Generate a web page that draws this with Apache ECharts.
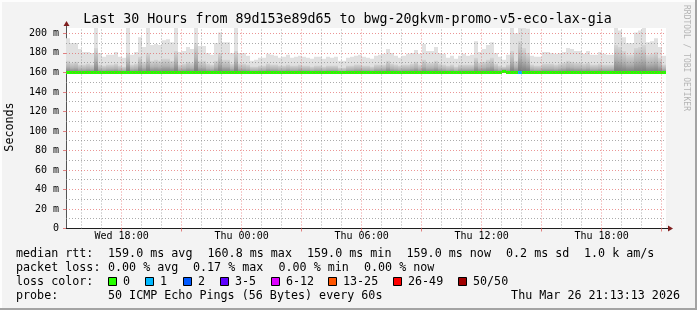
<!DOCTYPE html>
<html><head><meta charset="utf-8">
<script src="https://cdn.jsdelivr.net/npm/echarts@6/dist/echarts.min.js"></script>
<style>html,body{margin:0;padding:0;background:#f3f3f3;overflow:hidden}#c{width:697px;height:310px}</style>
</head><body><div id="c"></div>
<script>
// ---- time frame (hours since Wed 00:00) ----
const START_HOUR = 15 + 13/60 + 13/3600;   // Wed 15:13:13
const END_HOUR = START_HOUR + 30;          // Thu 21:13:13
const COL_FIRST_HOUR = 15.2;               // first 12-minute bucket (Wed 15:12)
const COL_STEP = 0.2;                      // 12 minutes

// ---- smoke: top of the smoke (max ping) per 12-min bucket, ms ----
const smokeMax = [
 195,190,190,184,181,181,180,206,180,176,
 178,178,181,176,175,206,178,181,196,186,
 206,188,189,188,193,194,191,206,181,182,
 186,184,206,187,187,180,178,190,201,191,
 191,180,206,180,180,177,172,173,175,175,
 179,178,177,175,176,178,175,176,177,176,
 175,174,176,176,174,176,175,176,172,172,
 175,176,177,178,176,175,174,177,178,179,
 184,180,177,175,177,179,180,183,179,189,
 182,182,186,180,179,175,177,174,177,179,
 177,178,192,181,184,188,191,180,176,173,
 178,206,200,206,206,205,177,176,176,181,
 181,180,179,180,181,185,184,182,182,179,
 182,178,178,181,179,178,178,206,203,196,
 190,190,201,203,206,191,192,195,186,177
];
// ---- smoke: upper edge of the dense (darker) part per bucket, ms ----
const smokeCore = [
 172,170,171,168,168,169,168,185,168,167,
 168,168,169,167,166,180,168,169,176,171,
 180,172,173,172,174,174,172,182,168,169,
 171,170,190,172,172,169,168,172,180,173,
 173,169,182,169,169,168,166,166,167,167,
 169,168,168,167,167,168,167,167,168,167,
 167,166,167,167,166,167,167,167,165,165,
 167,167,168,168,167,167,166,168,168,168,
 172,169,168,167,168,168,169,171,168,173,
 170,170,172,169,168,167,168,166,168,168,
 168,168,175,170,171,173,175,169,167,166,
 168,182,172,192,185,180,168,167,167,169,
 169,169,168,169,170,172,171,170,170,169,
 170,168,168,169,168,168,168,188,186,182,
 178,178,185,186,188,178,179,181,175,168
];
// ---- median rtt per bucket, ms ----
const medianRtt = [
 159.0,159.0,159.0,159.0,159.0,159.0,159.0,159.0,159.0,159.0,
 159.0,159.0,159.0,159.0,159.0,159.0,159.0,159.0,159.0,159.0,
 159.0,159.0,159.0,159.0,159.0,159.0,159.0,159.0,159.0,159.0,
 159.0,159.0,159.0,159.0,159.0,159.0,159.0,159.0,159.0,159.0,
 159.0,159.0,159.0,159.0,159.0,159.0,159.0,159.0,159.0,159.0,
 159.0,159.0,159.0,159.0,159.0,159.0,159.0,159.0,159.0,159.0,
 159.0,159.0,159.0,159.0,159.0,159.0,159.0,159.0,159.0,159.0,
 159.0,159.0,159.0,159.0,159.0,159.0,159.0,159.0,159.0,159.0,
 159.0,159.0,159.0,159.0,159.0,159.0,159.0,159.0,159.0,159.0,
 159.0,159.0,159.0,159.0,159.0,159.0,159.0,159.0,159.0,159.0,
 159.0,159.0,159.0,159.0,159.0,159.0,159.0,159.0,159.0,160.8,
 159.0,159.0,159.0,159.0,159.0,159.0,159.0,159.0,159.0,159.0,
 159.0,159.0,159.0,159.0,159.0,159.0,159.0,159.0,159.0,159.0,
 159.0,159.0,159.0,159.0,159.0,159.0,159.0,159.0,159.0,159.0,
 159.0,159.0,159.0,159.0,159.0,159.0,159.0,159.0,159.0,159.0
];
// ---- lost pings per bucket ----
const lossCount = [
 0,0,0,0,0,0,0,0,0,0, 0,0,0,0,0,0,0,0,0,0,
 0,0,0,0,0,0,0,0,0,0, 0,0,0,0,0,0,0,0,0,0,
 0,0,0,0,0,0,0,0,0,0, 0,0,0,0,0,0,0,0,0,0,
 0,0,0,0,0,0,0,0,0,0, 0,0,0,0,0,0,0,0,0,0,
 0,0,0,0,0,0,0,0,0,0, 0,0,0,0,0,0,0,0,0,0,
 0,0,0,0,0,0,0,0,0,0, 0,0,0,1,0,0,0,0,0,0,
 0,0,0,0,0,0,0,0,0,0, 0,0,0,0,0,0,0,0,0,0,
 0,0,0,0,0,0,0,0,0,0
];
// ---- loss colour legend ----
const lossLabels = ['0','1','2','3-5','6-12','13-25','26-49','50/50'];
const lossLower  = [0,1,2,3,6,13,26,50];
const lossColors = ['#26ff00','#00b8ff','#0059ff','#5e00ff','#dd00ff','#ff5500','#ff0000','#a10000'];

// ---- axes ----
const Y_MAX = 205.5;
const yLabelValues = [0,20,40,60,80,100,120,140,160,180,200];
const yMinorValues = [10,30,50,70,90,110,130,150,170,190];
const xLabelHours = [18,24,30,36,42];
const xLabelTexts = ['Wed 18:00','Thu 00:00','Thu 06:00','Thu 12:00','Thu 18:00'];
const xMajorHours = [18,21,24,27,30,33,36,39,42,45];
const xMinorHours = [16,17,19,20,22,23,25,26,28,29,31,32,34,35,37,38,40,41,43,44];

// ---- texts ----
const titleText = 'Last 30 Hours from 89d153e89d65 to bwg-20gkvm-promo-v5-eco-lax-gia';
const statRows = [
  [['median rtt:',16],['159.0 ms avg',108],['160.8 ms max',207.5],['159.0 ms min',307],['159.0 ms now',406.5],['0.2 ms sd',506],['1.0 k am/s',584]],
  [['packet loss:',16],['0.00 % avg',108],['0.17 % max',193],['0.00 % min',278.5],['0.00 % now',364]]
];
const lossSwatchX = [108,145,183,220,271,328,393,458];
const probeText = '50 ICMP Echo Pings (56 Bytes) every 60s';
const dateText = 'Thu Mar 26 21:13:13 2026';

const FONT = 'DejaVu Sans Mono';
const MINOR_GRID = 'rgba(143,143,143,0.75)';
const MAJOR_GRID = 'rgba(222,79,79,0.6)';

function lossColor(n){
  let c = lossColors[0];
  for (let i=0;i<lossLower.length;i++) if (n >= lossLower[i]) c = lossColors[i];
  return c;
}

const colData = smokeMax.map((m,k)=>[COL_FIRST_HOUR+k*COL_STEP, COL_FIRST_HOUR+(k+1)*COL_STEP, m, smokeCore[k], medianRtt[k], lossCount[k]]);

function renderSmoke(params, api){
  const xs = Math.max(api.value(0), START_HOUR), xe = Math.min(api.value(1), END_HOUR);
  const base = api.value(4);
  const pa = api.coord([xs, base]), pb = api.coord([xe, Math.min(api.value(2), Y_MAX)]), pc = api.coord([xs, api.value(3)]);
  const x0 = Math.round(pa[0]), x1 = Math.round(pb[0]);
  const yb = pa[1], yt = pb[1], yc = pc[1];
  return {type:'group', children:[
    {type:'rect', shape:{x:x0,y:yt,width:x1-x0,height:yb-yt}, style:{fill:'#e1e1e1'}},
    {type:'rect', shape:{x:x0,y:yc,width:x1-x0,height:yb-yc}, style:{fill:new echarts.graphic.LinearGradient(0,0,0,1,[
      {offset:0,color:'#d6d6d6'},{offset:0.5,color:'#b2b2b2'},{offset:1,color:'#727272'}])}}
  ]};
}
function renderMedian(params, api){
  const xs = Math.max(api.value(0), START_HOUR), xe = Math.min(api.value(1), END_HOUR);
  const p0 = api.coord([xs, api.value(4)]), p1 = api.coord([xe, api.value(4)]);
  const x0 = Math.round(p0[0]), x1 = Math.round(p1[0]);
  return {type:'rect', shape:{x:x0, y:Math.round(p0[1])-2, width:x1-x0, height:3}, style:{fill: lossColor(api.value(5))}};
}

const gridLines = [];
yMinorValues.forEach(v=>gridLines.push({yAxis:v, lineStyle:{color:MINOR_GRID}}));
xMinorHours.forEach(v=>gridLines.push({xAxis:v, lineStyle:{color:MINOR_GRID}}));
yLabelValues.filter(v=>v>0).forEach(v=>gridLines.push({yAxis:v, lineStyle:{color:MAJOR_GRID}}));
xMajorHours.forEach(v=>gridLines.push({xAxis:v, lineStyle:{color:MAJOR_GRID}}));

const chart = echarts.init(document.getElementById('c'), null, {renderer:'canvas'});
chart.setOption({
  animation:false,
  backgroundColor:'#f3f3f3',
  textStyle:{fontFamily:FONT},
  grid:{left:66, right:31, top:28, bottom:81.5, show:true, backgroundColor:'#ffffff', borderWidth:0},
  xAxis:{type:'value', min:START_HOUR, max:END_HOUR,
    axisLine:{show:true, lineStyle:{color:'#1f1f1f', width:1}},
    axisTick:{show:true, customValues:xMajorHours, length:3, lineStyle:{color:'#e08080'}},
    axisLabel:{customValues:xLabelHours, formatter:(v)=>xLabelTexts[xLabelHours.indexOf(Math.round(v))]||'', fontFamily:FONT, fontSize:10, color:'#000', margin:3},
    splitLine:{show:false}},
  yAxis:{type:'value', min:0, max:Y_MAX, interval:20,
    axisLine:{show:true, lineStyle:{color:'#555', width:1}},
    axisTick:{show:true, length:3, lineStyle:{color:'#e08080'}},
    axisLabel:{showMaxLabel:false, formatter:(v)=>v===0?'0':(v+' m'), fontFamily:FONT, fontSize:10, color:'#000', margin:7},
    splitLine:{show:false}},
  series:[
    {type:'custom', name:'smoke', data:colData, renderItem:renderSmoke, clip:true, z:2, silent:true},
    {type:'line', name:'grid', data:[], z:3, silent:true,
      markLine:{silent:true, symbol:['none','none'], label:{show:false}, animation:false,
        lineStyle:{type:[1,2], width:1}, emphasis:{disabled:true}, data:gridLines}},
    {type:'custom', name:'median', data:colData, renderItem:renderMedian, clip:true, z:4, silent:true}
  ]
});

// decorations computed from axes
const ax0 = chart.convertToPixel({xAxisIndex:0}, START_HOUR);
const ax1 = chart.convertToPixel({xAxisIndex:0}, END_HOUR);
const ay0 = chart.convertToPixel({yAxisIndex:0}, 0);
const ayT = chart.convertToPixel({yAxisIndex:0}, Y_MAX);
const ARROW = '#7f1f1f';
const g = [];
// frame
g.push({type:'rect', shape:{x:0,y:0,width:697,height:2}, style:{fill:'#fdfdfd'}, z:-1});
g.push({type:'rect', shape:{x:0,y:0,width:2,height:310}, style:{fill:'#fdfdfd'}, z:-1});
g.push({type:'rect', shape:{x:0,y:308,width:697,height:2}, style:{fill:'#a3a3a3'}, z:-1});
g.push({type:'rect', shape:{x:695,y:0,width:2,height:310}, style:{fill:'#a3a3a3'}, z:-1});
// axis extensions + arrows
g.push({type:'line', shape:{x1:Math.round(ax0)+0.5,y1:ayT,x2:Math.round(ax0)+0.5,y2:ayT-5}, style:{stroke:'#555',lineWidth:1}});
g.push({type:'polygon', shape:{points:[[Math.round(ax0)-2.5,ayT-2],[Math.round(ax0)+3.5,ayT-2],[Math.round(ax0)+0.5,ayT-7]]}, style:{fill:ARROW}});
g.push({type:'line', shape:{x1:ax1,y1:Math.round(ay0)-0.5,x2:ax1+5,y2:Math.round(ay0)-0.5}, style:{stroke:'#1f1f1f',lineWidth:1}});
g.push({type:'polygon', shape:{points:[[ax1+2,Math.round(ay0)-3.5],[ax1+2,Math.round(ay0)+2.5],[ax1+7,Math.round(ay0)-0.5]]}, style:{fill:ARROW}});
// title
g.push({type:'text', style:{text:titleText, x:347.5, y:19.4, align:'center', verticalAlign:'middle', font:'13.3px "'+FONT+'"', fill:'#000'}});
// y name
g.push({type:'text', x:10, y:127, rotation:Math.PI/2, style:{text:'Seconds', x:0, y:0, align:'center', verticalAlign:'middle', font:'11.7px "'+FONT+'"', fill:'#000'}});
// watermark
g.push({type:'text', x:686, y:5, rotation:-Math.PI/2, style:{text:'RRDTOOL / TOBI OETIKER', x:0, y:0, align:'left', verticalAlign:'middle', font:'8px "'+FONT+'"', fill:'#b4b4b4'}});
// stat rows
const rowY = [254.3, 268.2, 282, 296];
statRows.forEach((row,ri)=>row.forEach(([t,x])=>g.push({type:'text', style:{text:t, x:x, y:rowY[ri], align:'left', verticalAlign:'middle', font:'11.7px "'+FONT+'"', fill:'#000'}})));
g.push({type:'text', style:{text:'loss color:', x:16, y:rowY[2], align:'left', verticalAlign:'middle', font:'11.7px "'+FONT+'"', fill:'#000'}});
lossLabels.forEach((lab,i)=>{
  g.push({type:'rect', shape:{x:lossSwatchX[i]+0.5, y:277.5, width:8, height:8}, style:{fill:lossColors[i], stroke:'#000', lineWidth:1}});
  g.push({type:'text', style:{text:lab, x:lossSwatchX[i]+15, y:rowY[2], align:'left', verticalAlign:'middle', font:'11.7px "'+FONT+'"', fill:'#000'}});
});
g.push({type:'text', style:{text:'probe:', x:16, y:rowY[3], align:'left', verticalAlign:'middle', font:'11.7px "'+FONT+'"', fill:'#000'}});
g.push({type:'text', style:{text:probeText, x:108, y:rowY[3], align:'left', verticalAlign:'middle', font:'11.7px "'+FONT+'"', fill:'#000'}});
g.push({type:'text', style:{text:dateText, x:680, y:rowY[3], align:'right', verticalAlign:'middle', font:'11.7px "'+FONT+'"', fill:'#000'}});
chart.setOption({graphic:g});
</script></body></html>
